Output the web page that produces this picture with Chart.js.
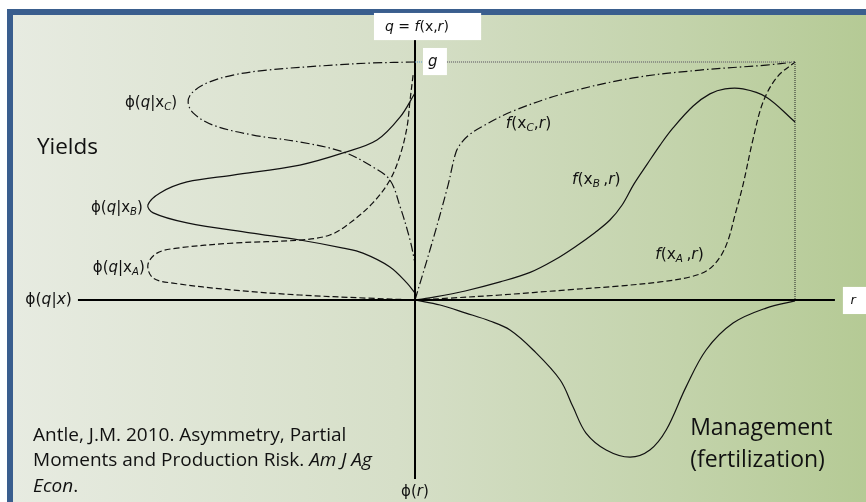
<!DOCTYPE html>
<html>
<head>
<meta charset="utf-8">
<script src="https://cdn.jsdelivr.net/npm/chart.js@4"></script>
<style>
  html, body { margin: 0; padding: 0; background: #fff; }
  canvas { display: block; }
</style>
</head>
<body>
<canvas id="chart" width="866" height="502"></canvas>
<script>
// --- data (r = management along the right, q = yield up, phi values to the left / down) ---
// production functions f(x, r)
const fxC_r = [0, 4.7, 8.7, 10.8, 12.4, 14.5, 17.9, 25.8, 39.7, 57.4, 75.0, 92.4, 100];
const fxC_q = [0, 25.2, 48.3, 62.2, 66.4, 69.7, 73.1, 79.4, 87.0, 93.3, 96.6, 98.7, 100];

const fxB_r = [0, 5.3, 13.2, 22.4, 30.3, 36.8, 42.1, 47.4, 51.3, 54.5, 57.6, 61.1, 64.5, 67.9, 73.2, 77.6, 81.6, 86.3, 92.4, 100];
const fxB_q = [0, 1.3, 3.8, 7.6, 11.6, 16.9, 22.3, 28.4, 33.6, 39.9, 48.7, 57.1, 65.1, 72.3, 81.5, 86.6, 88.7, 88.7, 85.3, 74.8];

const fxA_r = [0, 9.2, 22.4, 39.7, 53.9, 64.5, 72.4, 77.1, 80.3, 82.4, 84.2, 86.3, 88.9, 91.6, 95.3, 100];
const fxA_q = [0, 0.8, 2.1, 4.2, 5.9, 7.6, 9.7, 12.6, 18.1, 25.2, 35.7, 48.3, 67.2, 83.2, 93.7, 100];

// density of r, drawn below the r axis
const phiR_r = [0, 6.6, 13.4, 19.7, 25.0, 31.1, 38.2, 41.6, 45.0, 50.3, 56.6, 61.8, 66.1, 71.3, 76.6, 83.7, 92.4, 100];
const phiR_v = [0, -2.1, -5.5, -8.8, -12.6, -21.0, -33.6, -45.0, -55.9, -63.0, -66.0, -63.0, -54.6, -36.6, -21.0, -9.7, -3.4, -0.4];

// yield densities phi(q|x), drawn to the left of the q axis
const phiC_v = [0, -11.1, -21.6, -38.9, -47.9, -54.7, -58.7, -59.7, -58.4, -53.2, -42.6, -30.3, -18.9, -11.1, -6.6, -3.9, -1.3, 0];
const phiC_q = [100, 99.6, 98.7, 96.6, 94.5, 91.2, 87.0, 83.2, 78.6, 73.5, 69.3, 66.4, 62.2, 55.9, 50.4, 39.1, 25.2, 15.5];

const phiB_v = [0, -3.9, -10.0, -18.9, -30.3, -47.9, -60.0, -67.1, -70.3, -68.9, -60.0, -43.4, -30.3, -18.9, -13.7, -6.6, -2.1, 0];
const phiB_q = [87.0, 76.9, 67.2, 61.8, 56.7, 52.5, 49.6, 45.0, 39.9, 36.6, 32.4, 28.2, 25.2, 21.8, 19.7, 13.9, 7.1, 2.9];

const phiA_v = [-0.5, -1.3, -2.1, -3.9, -6.6, -11.1, -17.1, -22.4, -30.3, -47.9, -62.6, -67.9, -70.3, -68.9, -63.7, -47.9, -30.3, -12.6, 0];
const phiA_q = [94.5, 84.0, 72.7, 60.9, 50.4, 40.8, 32.4, 27.3, 25.2, 23.9, 21.8, 19.7, 14.7, 9.2, 7.1, 4.2, 2.1, 0.8, 0];

// axes and guide lines
const gLevel = 100;
const rMax = 100;
const axisH = [-88.7, 110.5];
const axisV = [109.2, -75.2];

const zip = (xs, ys) => xs.map((x, i) => ({ x: x, y: ys[i] }));

const SOLID = [];
const DASH = [6, 3];
const DASHDOT = [9, 3, 1.5, 3];

function curve(xs, ys, dash) {
  return {
    data: zip(xs, ys),
    showLine: true,
    borderColor: '#111',
    borderWidth: 1.2,
    borderDash: dash,
    tension: 0.35,
    pointRadius: 0,
    fill: false
  };
}

function straight(pts, color, width, dash) {
  return {
    data: pts,
    showLine: true,
    borderColor: color,
    borderWidth: width,
    borderDash: dash,
    tension: 0,
    pointRadius: 0,
    fill: false
  };
}

// --- text labels (rich parts: i = italic, s = subscript) ---
const MATH = '"DejaVu Sans", sans-serif';
const TEXT = '"Open Sans", sans-serif';

const boxes = [
  { x1: -10.8, x2: 17.4, y1: 120.6, y2: 109.2 },
  { x1: 2.1, x2: 8.4, y1: 105.9, y2: 94.5 },
  { x1: 112.6, x2: 118.7, y1: 5.5, y2: -5.9 }
];

const labels = [
  { x: 0.5, y: 114.7, align: 'center', size: 14, font: MATH,
    parts: [['q', 'i'], [' = '], ['f', 'i'], ['(x,'], ['r', 'i'], [')']] },
  { x: 4.7, y: 100, align: 'center', size: 15, font: MATH, parts: [['g', 'i']] },
  { x: 115.3, y: -0.4, align: 'center', size: 13, font: MATH, parts: [['r', 'i']] },
  { x: -90.3, y: 0, align: 'right', size: 15.5, font: MATH,
    parts: [['ϕ('], ['q', 'i'], ['|'], ['x', 'i'], [')']] },
  { x: -62.6, y: 82.8, align: 'right', size: 15, font: MATH,
    parts: [['ϕ('], ['q', 'i'], ['|x'], ['C', 'is'], [')']] },
  { x: -71.6, y: 38.7, align: 'right', size: 15, font: MATH,
    parts: [['ϕ('], ['q', 'i'], ['|x'], ['B', 'is'], [')']] },
  { x: -71.1, y: 13.4, align: 'right', size: 15, font: MATH,
    parts: [['ϕ('], ['q', 'i'], ['|x'], ['A', 'is'], [')']] },
  { x: 23.9, y: 73.9, align: 'left', size: 15.5, font: MATH,
    parts: [['f', 'i'], ['(x'], ['C', 'is'], [','], ['r', 'i'], [')']] },
  { x: 41.3, y: 50.4, align: 'left', size: 15.5, font: MATH,
    parts: [['f', 'i'], ['(x'], ['B ', 'is'], [','], ['r', 'i'], [')']] },
  { x: 63.2, y: 18.9, align: 'left', size: 15.5, font: MATH,
    parts: [['f', 'i'], ['(x'], ['A ', 'is'], [','], ['r', 'i'], [')']] },
  { x: 0, y: -80.7, align: 'center', size: 15, font: MATH,
    parts: [['ϕ('], ['r', 'i'], [')']] },
  { x: -99.5, y: 63.9, align: 'left', size: 22.5, font: TEXT, parts: [['Yields']] },
  { x: 72.4, y: -53.8, align: 'left', size: 23, font: TEXT, parts: [['Management']] },
  { x: 72.4, y: -67.6, align: 'left', size: 23, font: TEXT, parts: [['(fertilization)']] },
  { x: -100.5, y: -57.1, align: 'left', size: 19, font: TEXT,
    parts: [['Antle, J.M. 2010. Asymmetry, Partial']] },
  { x: -100.5, y: -67.6, align: 'left', size: 19, font: TEXT,
    parts: [['Moments and Production Risk. '], ['Am J Ag', 'i']] },
  { x: -100.5, y: -78.2, align: 'left', size: 19, font: TEXT,
    parts: [['Econ', 'i'], ['.']] }
];

function partFont(p, size, family) {
  const st = p[1] || '';
  const sz = st.includes('s') ? size * 0.68 : size;
  return (st.includes('i') ? 'italic ' : '') + sz + 'px ' + family;
}

function drawRich(ctx, lab, px, py) {
  let total = 0;
  const widths = lab.parts.map(p => {
    ctx.font = partFont(p, lab.size, lab.font);
    const w = ctx.measureText(p[0]).width;
    total += w;
    return w;
  });
  let cx = px;
  if (lab.align === 'center') cx = px - total / 2;
  if (lab.align === 'right') cx = px - total;
  ctx.textAlign = 'left';
  ctx.textBaseline = 'middle';
  lab.parts.forEach((p, i) => {
    ctx.font = partFont(p, lab.size, lab.font);
    const sub = (p[1] || '').includes('s');
    ctx.fillText(p[0], cx, sub ? py + lab.size * 0.28 : py);
    cx += widths[i];
  });
}

const backdrop = {
  id: 'backdrop',
  beforeDraw(chart) {
    const ctx = chart.ctx;
    const W = chart.width, H = chart.height;
    ctx.save();
    ctx.fillStyle = '#ffffff';
    ctx.fillRect(0, 0, W, H);
    ctx.fillStyle = '#3a5e8e';
    ctx.fillRect(7, 9, W - 7, H - 9);
    const g = ctx.createLinearGradient(13, 0, W, 0);
    g.addColorStop(0, '#e7ebe1');
    g.addColorStop(0.45, '#d6dfc8');
    g.addColorStop(0.78, '#c3d3ab');
    g.addColorStop(1, '#b5ca95');
    ctx.fillStyle = g;
    ctx.fillRect(13, 15, W - 13, H - 15);
    ctx.restore();
  }
};

const annotations = {
  id: 'annotations',
  afterDatasetsDraw(chart) {
    const ctx = chart.ctx;
    const xs = chart.scales.x, ys = chart.scales.y;
    ctx.save();
    ctx.fillStyle = '#ffffff';
    boxes.forEach(b => {
      const x1 = xs.getPixelForValue(b.x1), x2 = xs.getPixelForValue(b.x2);
      const y1 = ys.getPixelForValue(b.y1), y2 = ys.getPixelForValue(b.y2);
      ctx.fillRect(x1, y1, x2 - x1, y2 - y1);
    });
    ctx.fillStyle = '#111';
    labels.forEach(l => drawRich(ctx, l, xs.getPixelForValue(l.x), ys.getPixelForValue(l.y)));
    ctx.restore();
  }
};

new Chart(document.getElementById('chart'), {
  type: 'scatter',
  data: {
    datasets: [
      straight([{ x: 8.4, y: gLevel }, { x: rMax, y: gLevel }], '#7a7a7a', 1.4, [1, 1]),
      straight([{ x: 0, y: gLevel }, { x: 2.1, y: gLevel }], '#5b9bd5', 1, [1, 1]),
      straight([{ x: rMax, y: gLevel }, { x: rMax, y: 0 }], '#222', 1, [1, 1]),
      straight([{ x: axisH[0], y: 0 }, { x: axisH[1], y: 0 }], '#000', 2, SOLID),
      straight([{ x: 0, y: axisV[0] }, { x: 0, y: axisV[1] }], '#000', 2, SOLID),
      curve(fxC_r, fxC_q, DASHDOT),
      curve(fxB_r, fxB_q, SOLID),
      curve(fxA_r, fxA_q, DASH),
      curve(phiR_r, phiR_v, SOLID),
      curve(phiC_v, phiC_q, DASHDOT),
      curve(phiB_v, phiB_q, SOLID),
      curve(phiA_v, phiA_q, DASH)
    ]
  },
  options: {
    responsive: false,
    animation: false,
    layout: { padding: 0 },
    plugins: {
      legend: { display: false },
      tooltip: { enabled: false }
    },
    scales: {
      x: { type: 'linear', min: -109.21, max: 118.68, display: false },
      y: { type: 'linear', min: -84.87, max: 126.05, display: false }
    }
  },
  plugins: [backdrop, annotations]
});
</script>
</body>
</html>
